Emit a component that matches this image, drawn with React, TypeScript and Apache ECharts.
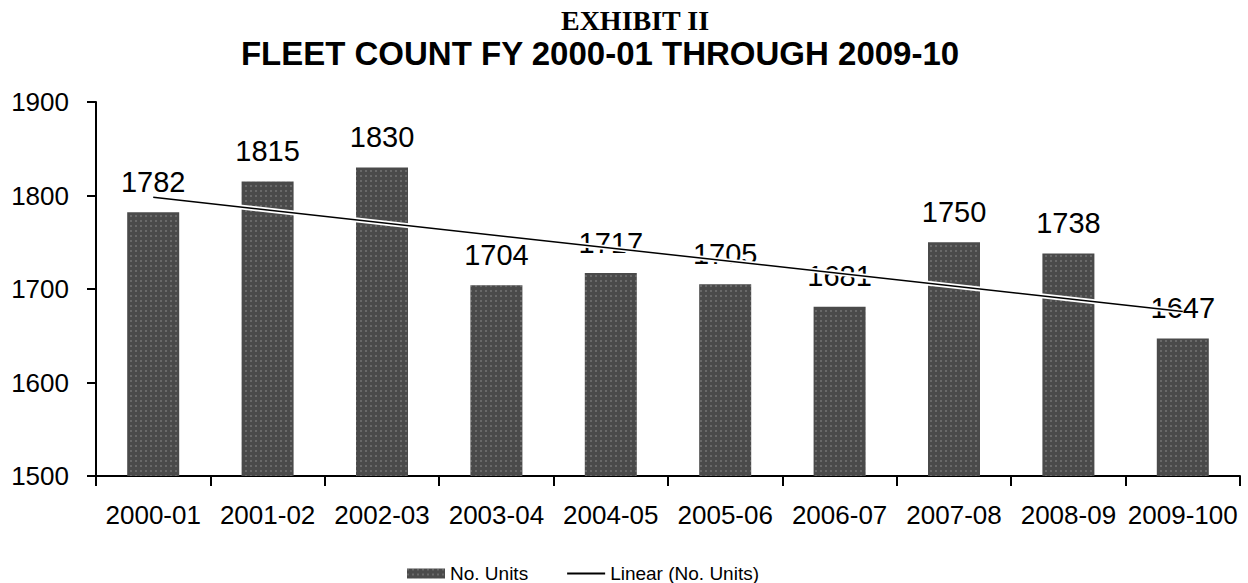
import React, { useEffect, useRef } from "react";
import * as echarts from "echarts";

const categories = ["2000-01", "2001-02", "2002-03", "2003-04", "2004-05", "2005-06", "2006-07", "2007-08", "2008-09", "2009-100"];
const units = [1782, 1815, 1830, 1704, 1717, 1705, 1681, 1750, 1738, 1647];
// Linear trendline end points (first and last category)
const trendEnds = [1798, 1676];
const yTicks = { min: 1500, max: 1900, interval: 100 };

const FONT = "'Liberation Sans', Arial, sans-serif";

export default function App() {
  const ref = useRef<HTMLDivElement>(null);
  useEffect(() => {
    if (!ref.current) return;
    const chart = echarts.init(ref.current, null, { renderer: "svg" });
    const trend = categories.map((_, i) =>
      i === 0 ? trendEnds[0] : i === categories.length - 1 ? trendEnds[1] : null
    );
    chart.setOption({
      animation: false,
      backgroundColor: "#ffffff",
      title: [
        {
          text: "EXHIBIT II",
          left: 630,
          top: 1,
          textAlign: "center",
          textStyle: { fontFamily: "'Liberation Serif', 'Times New Roman', serif", fontWeight: "bold", fontSize: 28, color: "#000" },
        },
        {
          text: "FLEET COUNT FY 2000-01 THROUGH 2009-10",
          left: 595,
          top: 32,
          textAlign: "center",
          textStyle: { fontFamily: FONT, fontWeight: "bold", fontSize: 33, color: "#000" },
        },
      ],
      legend: {
        top: 559,
        left: 402,
        itemGap: 38,
        itemWidth: 38,
        itemHeight: 10,
        textStyle: { fontFamily: FONT, fontSize: 19, color: "#000" },
        data: [
          { name: "No. Units", icon: "rect" },
          { name: "Linear (No. Units)", itemStyle: { opacity: 0 } },
        ],
      },
      grid: { left: 96, right: 8, top: 102, bottom: 107, containLabel: false },
      xAxis: {
        type: "category",
        data: categories,
        axisLine: { lineStyle: { color: "#000", width: 2 } },
        axisTick: { show: true, length: 10, lineStyle: { color: "#000", width: 2 } },
        axisLabel: { fontFamily: FONT, fontSize: 26, color: "#000", margin: 26, interval: 0 },
      },
      yAxis: {
        type: "value",
        min: yTicks.min,
        max: yTicks.max,
        interval: yTicks.interval,
        splitLine: { show: false },
        axisLine: { show: true, lineStyle: { color: "#000", width: 2 } },
        axisTick: { show: true, length: 9, lineStyle: { color: "#000", width: 2 } },
        axisLabel: { fontFamily: FONT, fontSize: 26, color: "#000", margin: 27, formatter: (v: number) => String(v) },
      },
      series: [
        {
          name: "No. Units",
          type: "bar",
          data: units,
          barWidth: 52,
          itemStyle: {
            color: "#4a4a4a",
            decal: {
              symbol: "rect",
              symbolSize: 0.7,
              color: "rgba(255,255,255,0.32)",
              dashArrayX: [2, 3],
              dashArrayY: [2, 3],
              rotation: 0,
            },
          },
          label: {
            show: true,
            position: "top",
            distance: 16,
            fontFamily: FONT,
            fontSize: 29,
            color: "#000",
          },
        },
        {
          name: "trend-halo",
          type: "line",
          data: trend,
          connectNulls: true,
          symbol: "none",
          silent: true,
          lineStyle: { color: "#ffffff", width: 5 },
          z: 3,
        },
        {
          name: "Linear (No. Units)",
          type: "line",
          data: trend,
          connectNulls: true,
          symbol: "none",
          itemStyle: { color: "#000" },
          lineStyle: { color: "#000", width: 1.5 },
          z: 4,
        },
      ],
    });
    return () => chart.dispose();
  }, []);
  return <div ref={ref} style={{ position: "fixed", left: 0, top: 0, width: 1248, height: 583 }} />;
}
